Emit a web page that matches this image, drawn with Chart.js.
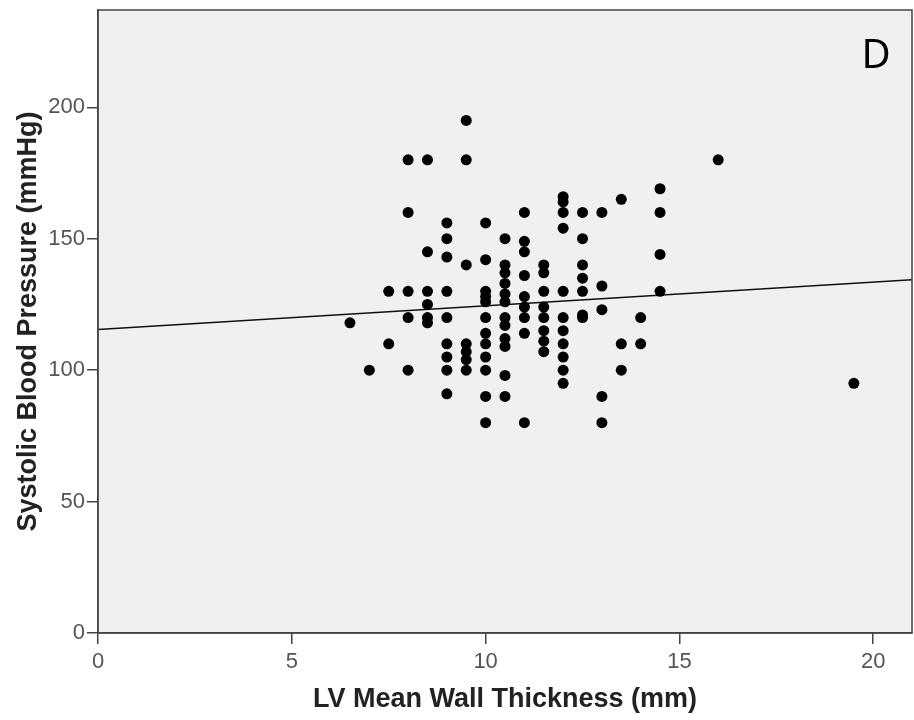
<!DOCTYPE html>
<html>
<head>
<meta charset="utf-8">
<script src="https://cdn.jsdelivr.net/npm/chart.js@4/dist/chart.umd.min.js"></script>
<style>
  html, body { margin: 0; padding: 0; background: #fff; }
  canvas { display: block; }
</style>
</head>
<body>
<canvas id="scatterChart" width="914" height="720"></canvas>
<script>
// 各点の値 (LV平均壁厚 mm, 収縮期血圧 mmHg)
var wallThickness = [
  6.5,
  7,
  7.5, 7.5,
  8, 8, 8, 8, 8,
  8.5, 8.5, 8.5, 8.5, 8.5, 8.5,
  9, 9, 9, 9, 9, 9, 9, 9, 9,
  9.5, 9.5, 9.5, 9.5, 9.5, 9.5, 9.5,
  10, 10, 10, 10, 10, 10, 10, 10, 10, 10, 10, 10,
  10.5, 10.5, 10.5, 10.5, 10.5, 10.5, 10.5, 10.5, 10.5, 10.5, 10.5, 10.5,
  11, 11, 11, 11, 11, 11, 11, 11, 11,
  11.5, 11.5, 11.5, 11.5, 11.5, 11.5, 11.5, 11.5,
  12, 12, 12, 12, 12, 12, 12, 12, 12, 12, 12,
  12.5, 12.5, 12.5, 12.5, 12.5, 12.5, 12.5,
  13, 13, 13, 13, 13,
  13.5, 13.5, 13.5,
  14, 14,
  14.5, 14.5, 14.5, 14.5,
  16,
  19.5
];
var systolicBP = [
  118,
  100,
  130, 110,
  180, 160, 130, 120, 100,
  180, 145, 130, 125, 120, 118,
  156, 150, 143, 130, 120, 110, 105, 100, 91,
  195, 180, 140, 110, 107, 104, 100,
  156, 142, 130, 128, 126, 120, 114, 110, 105, 100, 90, 80,
  150, 140, 137, 133, 129, 126, 120, 117, 112, 109, 98, 90,
  160, 149, 145, 136, 128, 124, 120, 114, 80,
  140, 137, 130, 124, 120, 115, 111, 107,
  166, 164, 160, 154, 130, 120, 115, 110, 105, 100, 95,
  160, 150, 140, 135, 130, 121, 120,
  160, 132, 123, 90, 80,
  165, 110, 100,
  120, 110,
  169, 160, 144, 130,
  180,
  95
];
// 回帰直線の両端
var fitX = [0, 21];
var fitY = [115.5, 134.4];
// 目盛り
var xTicks = [0, 5, 10, 15, 20];
var yTicks = [0, 50, 100, 150, 200];

var points = wallThickness.map(function (x, i) { return { x: x, y: systolicBP[i] }; });
var fitLine = fitX.map(function (x, i) { return { x: x, y: fitY[i] }; });

// プロット領域の背景と枠、右上の「D」
var framePlugin = {
  id: 'frame',
  beforeDraw: function (chart) {
    var a = chart.chartArea, c = chart.ctx;
    c.save();
    c.fillStyle = '#f0f0f0';
    c.fillRect(a.left, a.top, a.right - a.left, a.bottom - a.top);
    c.restore();
  },
  afterDraw: function (chart) {
    var a = chart.chartArea, c = chart.ctx;
    c.save();
    c.strokeStyle = '#444';
    c.lineWidth = 1.5;
    c.strokeRect(a.left, a.top, a.right - a.left, a.bottom - a.top);
    c.fillStyle = '#000';
    c.font = '40px "Noto Sans"';
    c.textAlign = 'center';
    c.textBaseline = 'middle';
    c.fillText('D', 876, 57);
    c.restore();
  }
};

var ctx = document.getElementById('scatterChart');
var chart = new Chart(ctx, {
  type: 'scatter',
  data: {
    datasets: [
      {
        data: points,
        backgroundColor: '#000',
        borderWidth: 0,
        pointRadius: 5.5,
        pointHoverRadius: 5.5
      },
      {
        data: fitLine,
        showLine: true,
        borderColor: '#111',
        borderWidth: 1.5,
        pointRadius: 0,
        fill: false
      }
    ]
  },
  options: {
    responsive: false,
    animation: false,
    layout: { autoPadding: false, padding: { top: 10, right: 2, left: 0, bottom: 0 } },
    plugins: { legend: { display: false }, tooltip: { enabled: false } },
    scales: {
      x: {
        type: 'linear',
        min: 0,
        max: 21,
        afterFit: function (s) { s.height = 87; s.paddingLeft = 0; s.paddingRight = 0; },
        afterBuildTicks: function (s) { s.ticks = xTicks.map(function (v) { return { value: v }; }); },
        grid: { drawOnChartArea: false, drawTicks: true, tickLength: 11, color: '#444', lineWidth: 1.5 },
        border: { display: true, color: '#444', width: 1.5 },
        ticks: { color: '#555', padding: 5, font: { family: '"Liberation Sans", Arial', size: 22 } },
        title: {
          display: true,
          text: 'LV Mean Wall Thickness (mm)',
          color: '#222',
          padding: { top: 4, bottom: 4 },
          font: { family: '"Liberation Sans", Arial', size: 27, weight: 'bold' }
        }
      },
      y: {
        type: 'linear',
        min: 0,
        max: 237,
        afterFit: function (s) { s.width = 98; s.paddingTop = 0; s.paddingBottom = 0; },
        afterBuildTicks: function (s) { s.ticks = yTicks.map(function (v) { return { value: v }; }); },
        grid: { drawOnChartArea: false, drawTicks: true, tickLength: 11, color: '#444', lineWidth: 1.5 },
        border: { display: true, color: '#444', width: 1.5 },
        ticks: { color: '#555', padding: 2, font: { family: '"Liberation Sans", Arial', size: 22 } },
        title: {
          display: true,
          text: 'Systolic Blood Pressure (mmHg)',
          color: '#222',
          padding: { top: 12, bottom: 0 },
          font: { family: '"Liberation Sans", Arial', size: 27, weight: 'bold' }
        }
      }
    }
  },
  plugins: [framePlugin]
});
</script>
</body>
</html>
